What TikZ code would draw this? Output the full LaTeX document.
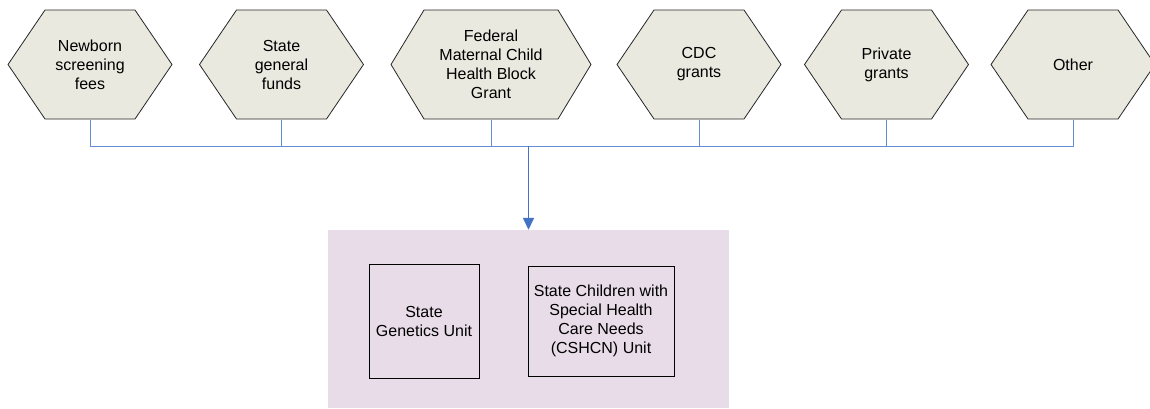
\documentclass[tikz,border=0pt]{standalone}
\usepackage{fontspec}
\setmainfont{Liberation Sans}
\usetikzlibrary{positioning, arrows.meta}

\definecolor{hexfill}{RGB}{233,233,223}
\definecolor{unitfill}{RGB}{232,220,232}
\definecolor{busblue}{RGB}{100,142,212}
\definecolor{arrowblue}{RGB}{68,114,196}

\begin{document}
\begin{tikzpicture}
[
    x=1pt, y=-1pt, on grid, font=\fontsize{16}{19}\selectfont,
    source_node/.style 2 args={rectangle, minimum width=#1, minimum height=111pt, inner sep=0pt, align=center,
        path picture={\filldraw[fill=hexfill, draw=black!85, line width=0.8pt]
            ([xshift=1pt]path picture bounding box.west) -- ([xshift=#2+1pt, yshift=-1pt]path picture bounding box.north west)
            -- ([xshift=-#2-1pt, yshift=-1pt]path picture bounding box.north east) -- ([xshift=-1pt]path picture bounding box.east)
            -- ([xshift=-#2-1pt, yshift=1pt]path picture bounding box.south east) -- ([xshift=#2+1pt, yshift=1pt]path picture bounding box.south west)
            -- cycle ;}},
    unit_node/.style={rectangle, draw=black, fill=unitfill, line width=1pt, align=center},
]
    \useasboundingbox (0,0) rectangle (1150,408) ;
    \node[rectangle, fill=unitfill, minimum width=401pt, minimum height=178pt] (agency) at (528.5,319) {} ;
    \node[source_node={166pt}{37pt}] (nb) at (90,64.5) {Newborn\\screening\\fees} ;
    \node[source_node={166pt}{37pt}] (sgf) [right = 191.5pt of nb] {State\\general\\funds} ;
    \node[source_node={202pt}{33pt}] (mch) [right = 209.5pt of sgf] {Federal\\Maternal Child\\Health Block\\Grant} ;
    \node[source_node={166pt}{37pt}] (cdc) [right = 208pt of mch] {CDC\\grants} ;
    \node[source_node={166pt}{37pt}] (prv) [right = 187.5pt of cdc] {Private\\grants} ;
    \node[source_node={166pt}{37pt}] (oth) [right = 186.5pt of prv] {Other} ;
    \node[unit_node, minimum width=110pt, minimum height=114pt] (gen) at (424,321) {State\\Genetics Unit} ;
    \node[unit_node, minimum width=146pt, minimum height=110pt] (cshcn) [right = 177pt of gen] {State Children with\\Special Health\\Care Needs\\(CSHCN) Unit} ;
    \coordinate (hub) at (528.5,146) ;
    \draw[line width=1pt, color=busblue] (nb.south) |- (hub) ;
    \draw[line width=1pt, color=busblue] (sgf.south) |- (hub) ;
    \draw[line width=1pt, color=busblue] (mch.south) |- (hub) ;
    \draw[line width=1pt, color=busblue] (cdc.south) |- (hub) ;
    \draw[line width=1pt, color=busblue] (prv.south) |- (hub) ;
    \draw[line width=1pt, color=busblue] (oth.south) |- (hub) ;
    \draw[-{Triangle[width=11pt, length=12pt]}, line width=1.5pt, color=arrowblue] (hub) -- (agency.north) ;
\end{tikzpicture}
\end{document}
